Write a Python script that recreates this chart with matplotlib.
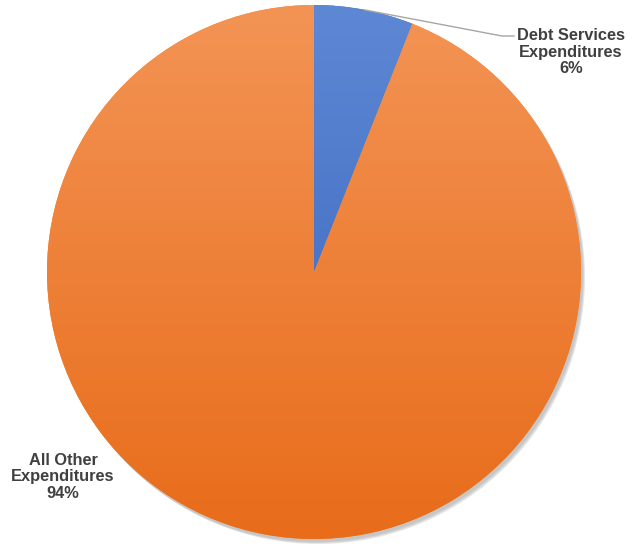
import numpy as np
import matplotlib.pyplot as plt
from matplotlib.patches import Circle

# data
labels = ["Debt Services\nExpenditures", "All Other\nExpenditures"]
shares = [6, 94]
top_colors = ["#5e88d4", "#f39455"]
bottom_colors = ["#3562bc", "#e86c1a"]

W, H = 639, 548
fig = plt.figure(figsize=(W / 100, H / 100), dpi=100)
ax = fig.add_axes([0, 0, 1, 1])
ax.set_xlim(0, W)
ax.set_ylim(0, H)
ax.set_aspect("equal")
ax.axis("off")

cx, cy, r = 314, H - 272, 267

# soft shadow
for i, a in enumerate([0.06, 0.08, 0.10]):
    ax.add_patch(Circle((cx + 2 + i, cy - 3 - i), r, color="black", alpha=a, lw=0, zorder=0))

wedges, _ = ax.pie(shares, startangle=90, counterclock=False, center=(cx, cy),
                   radius=r, frame=True, wedgeprops=dict(linewidth=0))
ax.set_xlim(0, W)
ax.set_ylim(0, H)
ax.axis("off")

# vertical gradient fill clipped to each wedge
grad = np.linspace(0, 1, 256).reshape(-1, 1)
for w, c0, c1 in zip(wedges, top_colors, bottom_colors):
    a0 = np.array(plt.matplotlib.colors.to_rgb(c0))
    a1 = np.array(plt.matplotlib.colors.to_rgb(c1))
    img = a0 + (a1 - a0) * grad[..., None]
    im = ax.imshow(img, extent=(cx - r, cx + r, cy - r, cy + r), origin="upper",
                   aspect="auto", zorder=2)
    im.set_clip_path(w)
    w.set_zorder(1)

font = dict(family="Liberation Sans", fontsize=11.8, fontweight="bold", color="#404040",
            ha="center", va="center", linespacing=1.12, zorder=5)
ax.text(571, H - 52, labels[0] + "\n%d%%" % shares[0], **font)
ax.text(63, H - 477, labels[1] + "\n%d%%" % shares[1], **font)

# leader line
ax.plot([365, 502, 514], [H - 10, H - 36, H - 36], color="#a6a6a6", lw=1, zorder=4)

fig.savefig("out.png", dpi=100)
